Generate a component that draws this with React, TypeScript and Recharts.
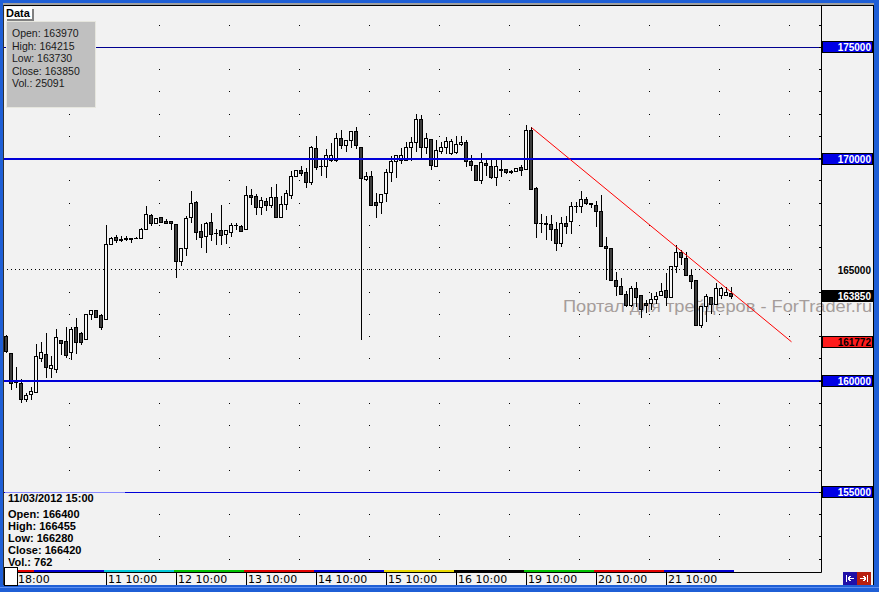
import React from "react";
import {
  ComposedChart, Bar, Line, XAxis, YAxis, ReferenceLine, ReferenceArea,
} from "recharts";

// hourly candles (index 0 = first bar on the left)
const opens = [
  162040, 161250, 160000, 159900, 159180, 159430, 159520, 161050, 161220, 160600,
  160560, 161840, 161790, 161320, 162420, 162190, 161880, 163000, 163190, 162970,
  162780, 166160, 166480, 166400, 166450, 166400, 166450, 166420, 166860, 167480,
  167090, 167370, 167190, 167190, 167060, 165420, 165980, 167370, 168060, 166740,
  166520, 167150, 166670, 166790, 166610, 166730, 167010, 166980, 166860, 168370,
  168320, 167850, 168110, 167930, 168275, 167400, 167960, 168390, 169220, 169490,
  169400, 168950, 170480, 169670, 169670, 169925, 169925, 170930, 170620, 170840,
  171250, 170530, 169110, 169220, 168050, 168050, 168480, 169420, 169890, 169960,
  169960, 170530, 170750, 171790, 170530, 170890, 169670, 170350, 170530, 170260,
  170300, 170660, 170750, 169900, 169720, 169040, 169810, 169670, 169180, 169540,
  169540, 169450, 169450, 169630, 169540, 171290, 168680, 167100, 167100, 167060,
  166830, 166200, 167100, 167190, 167870, 167870, 168190, 168010, 167920, 167640,
  166070, 165980, 164540, 164270, 163900, 163410, 164180, 163860, 163500, 163500,
  163680, 163860, 164090, 163770, 165170, 165800, 165530, 164760, 164540, 162550,
  163370, 163770, 163460, 163860, 163860, 163970,
];
const highs = [
  162100, 161250, 160620, 160080, 159450, 159720, 161690, 161780, 162150, 161130,
  162330, 161850, 162450, 162450, 162850, 162200, 163000, 163190, 163190, 163000,
  167030, 166500, 166580, 166530, 166510, 166455, 166470, 166870, 167880, 167530,
  167330, 167370, 167280, 167190, 167060, 165980, 167430, 168550, 168120, 167060,
  167150, 167570, 166830, 167930, 166800, 167120, 167120, 167010, 168780, 168640,
  168400, 168300, 168250, 168730, 168860, 168330, 168600, 169460, 169490, 169690,
  169580, 170570, 171040, 170030, 170440, 170720, 171140, 171290, 170840, 171250,
  171430, 170530, 169420, 169460, 168460, 168410, 169540, 170140, 170170, 170500,
  170750, 170980, 172010, 171950, 171140, 170890, 170840, 170750, 170980, 170890,
  171020, 171020, 170840, 170170, 169720, 170260, 169940, 169940, 169940, 170030,
  169540, 169490, 169580, 169720, 171520, 171430, 168730, 167510, 167410, 167450,
  167150, 167375, 167420, 168050, 168050, 168530, 168280, 168010, 168100, 168370,
  166470, 165980, 164900, 164630, 164060, 164270, 164450, 163860, 163640, 163950,
  163990, 164400, 164850, 165170, 166110, 165890, 165800, 164990, 164540, 163370,
  163900, 163770, 164400, 164220, 164220, 164215,
];
const lows = [
  161300, 159630, 159740, 159070, 159130, 159190, 159500, 160900, 160170, 160170,
  160420, 161230, 161080, 160990, 161270, 161690, 161880, 162780, 162870, 162370,
  162780, 166160, 166280, 166320, 166370, 166280, 166420, 166420, 166860, 167040,
  167090, 167150, 167130, 166860, 164700, 165220, 165690, 167160, 166410, 166050,
  165830, 166370, 166160, 166160, 166200, 166550, 166860, 166770, 166860, 167970,
  167520, 167520, 167700, 167830, 167375, 167360, 167750, 168240, 169220, 169250,
  168750, 168870, 169550, 169290, 169160, 169880, 169900, 170500, 170330, 170530,
  170500, 161920, 169040, 167910, 167380, 167580, 168120, 168980, 169160, 169800,
  169960, 169960, 170370, 170080, 170260, 169560, 169670, 170260, 170260, 170220,
  170260, 170620, 169670, 169500, 169040, 168910, 169250, 169130, 168820, 169220,
  169360, 169360, 169450, 169270, 169540, 168640, 166470, 166730, 166380, 166370,
  165900, 166070, 166650, 166650, 167600, 167600, 167950, 167830, 166970, 166070,
  164580, 164540, 163890, 163900, 163360, 163360, 163360, 162870, 163100, 163230,
  163500, 163860, 163410, 163770, 164900, 165260, 164760, 164180, 162550, 162420,
  162690, 163050, 163460, 163730, 163860, 163730,
];
const closes = [
  161365, 159900, 159950, 159180, 159400, 159550, 161150, 161330, 160650, 160720,
  161970, 161730, 161190, 162330, 161770, 161770, 163000, 163190, 162870, 162450,
  166160, 166430, 166330, 166330, 166390, 166420, 166420, 166850, 167510, 167090,
  167330, 167150, 167130, 167090, 165390, 165980, 167330, 168000, 166730, 166470,
  167120, 166640, 166670, 166560, 166790, 167010, 167010, 166770, 168370, 168300,
  167850, 168150, 167930, 168275, 167375, 167960, 168460, 169220, 169490, 169370,
  168950, 170530, 169640, 169670, 170170, 170170, 170930, 170620, 170840, 171250,
  170620, 169130, 169220, 167940, 167940, 168410, 169420, 169910, 170170, 170170,
  170530, 170750, 171790, 170530, 170930, 169720, 170390, 170530, 170800, 170800,
  170660, 170750, 169900, 169720, 169040, 169850, 169720, 169180, 169670, 169490,
  169400, 169400, 169580, 169490, 171290, 168640, 167100, 167100, 167060, 166830,
  166200, 167100, 166980, 167870, 167870, 168190, 168010, 167950, 167640, 166070,
  165980, 164540, 164270, 163900, 163410, 164180, 163770, 163230, 163410, 163680,
  163815, 164040, 163770, 165170, 165800, 165570, 164760, 164490, 162550, 163370,
  163815, 163460, 164180, 164180, 164000, 163850,
];

const SLOTS = 163; // bars that fit on the screen, incl. empty space on the right

// red trend line: from the high of the bar 19 11:00 to its end point
const trendIdx = [105, 157];
const trendVals = [171400, 161772];

const dayLabelIdx = [2, 20, 34, 48, 62, 76, 90, 104, 118, 132];
const dayLabels = [
  "18:00", "11 10:00", "12 10:00", "13 10:00", "14 10:00",
  "15 10:00", "16 10:00", "19 10:00", "20 10:00", "21 10:00",
];
const dayStartIdx = [0, 6, 20, 34, 48, 62, 76, 90, 104, 118, 132];
const dayEndIdx = [5, 19, 33, 47, 61, 75, 89, 103, 117, 131, 145];
const dayColors = [
  "#e00000", "#0000d0", "#00c8d8", "#00c000", "#e00000", "#0000d0",
  "#e8d800", "#000000", "#00c000", "#e00000", "#0000d0",
];

const levelPrices = [175000, 170000, 160000, 155000];
const levelWidths = [1, 2, 2, 1];
const levelColors = ["#000090", "#0000d8", "#0000d8", "#0000d8"];
const gridPrices = [
  152000, 153000, 154000, 155000, 156000, 157000, 158000, 159000, 160000,
  161000, 162000, 163000, 164000, 165000, 166000, 167000, 168000, 169000,
  170000, 171000, 172000, 173000, 174000, 175000, 176000,
];
const roundLevel = 165000;
const lastClose = 163850;
const trendLast = 161772;

const topInfo = ["Open: 163970", "High: 164215", "Low: 163730", "Close: 163850", "Vol.: 25091"];
const bottomDate = "11/03/2012 15:00";
const bottomInfo = ["Open: 166400", "High: 166455", "Low: 166280", "Close: 166420", "Vol.: 762"];
const watermark = "Портал для трейдеров - ForTrader.ru";

const rows = Array.from({ length: SLOTS }, (_, i) => ({
  i,
  o: i < opens.length ? opens[i] : null,
  h: i < highs.length ? highs[i] : null,
  l: i < lows.length ? lows[i] : null,
  c: i < closes.length ? closes[i] : null,
  t: trendIdx.includes(i) ? trendVals[trendIdx.indexOf(i)] : null,
}));

const BG = "#f2f2f2";
const FRAME = "#1f5fd6";
// dots of the grid rows: left edge tick, then one dot per day column
const gridDash = "2 30 1 69 1 69 1 69 1 69 1 69 1 69 1 69 1 69 1 69 1 89 1 2000";

const Candle = (props: any) => {
  const { x, y, width, height, payload } = props;
  if (!payload || payload.o == null) return <g />;
  const { o, h, l, c } = payload;
  const top = Math.min(y, y + height);
  const hh = Math.abs(height);
  const k = h > l ? hh / (h - l) : 0;
  const px = Math.floor(x + width / 2);
  const yo = top + (h - o) * k;
  const yc = top + (h - c) * k;
  const bTop = Math.round(Math.min(yo, yc));
  const bBot = Math.round(Math.max(yo, yc));
  const up = c >= o;
  return (
    <g shapeRendering="crispEdges">
      <line x1={px + 0.5} x2={px + 0.5} y1={Math.round(top)} y2={Math.round(top + hh) + 1} stroke="#000" />
      {bBot - bTop < 1 ? (
        <line x1={px - 2} x2={px + 2} y1={bTop + 0.5} y2={bTop + 0.5} stroke="#000" />
      ) : (
        <rect x={px - 1.5} y={bTop + 0.5} width={3} height={bBot - bTop}
          fill={up ? "#f6f6f6" : "#3c3c3c"} stroke="#000" />
      )}
    </g>
  );
};

const XTick = (props: any) => {
  const { x, y, payload } = props;
  const k = dayLabelIdx.indexOf(payload.value);
  if (k < 0) return <g />;
  const px = Math.floor(x) + 0.5;
  return (
    <g>
      <line x1={px} x2={px} y1={y} y2={y + 14} stroke="#000" shapeRendering="crispEdges" />
      <text x={px + 1.5} y={y + 10.5} fontFamily="DejaVu Sans" fontSize={11} fill="#000">
        {dayLabels[k]}
      </text>
    </g>
  );
};

const YTick = (props: any) => {
  const { x, y, payload } = props;
  const v = payload.value;
  const ry = Math.round(y);
  const mark = gridPrices.includes(v) ? (
    <line x1={x - 3} x2={x} y1={Math.floor(y) + 0.5} y2={Math.floor(y) + 0.5} stroke="#000" shapeRendering="crispEdges" />
  ) : null;
  let fill: string | null = null;
  let color = "#000";
  if (levelPrices.includes(v)) { fill = "#0000e6"; color = "#fff"; }
  else if (v === lastClose) { fill = "#000"; color = "#fff"; }
  else if (v === trendLast) { fill = "#ff1c1c"; color = "#000"; }
  const showText = fill !== null || v === roundLevel;
  return (
    <g>
      {mark}
      {fill && (
        <rect x={822.5} y={ry - 5.5} width={50} height={11} fill={fill} stroke="#000" shapeRendering="crispEdges" />
      )}
      {showText && (
        <text x={871} y={ry + 4} textAnchor="end" fontFamily="Liberation Sans" fontWeight="bold" fontSize={10} fill={color}>
          {v}
        </text>
      )}
    </g>
  );
};

export default function App() {
  return (
    <div style={{ position: "absolute", left: 0, top: 0, width: 879, height: 592, background: BG, overflow: "hidden" }}>
      <svg width={879} height={592} style={{ position: "absolute", left: 0, top: 0 }}>
        <text x={563} y={312} fontFamily="Liberation Sans" fontSize={16} fill="#a59d9b" textLength={309} lengthAdjust="spacingAndGlyphs">
          {watermark}
        </text>
      </svg>
      <div style={{ position: "absolute", left: 0, top: 0 }}>
        <ComposedChart width={879} height={592} data={rows} margin={{ top: 6, right: 6, left: 4, bottom: 0 }} barCategoryGap={0}>
          {gridPrices.map((p) => (
            <ReferenceLine key={"g" + p} y={p} stroke="#000" strokeDasharray={gridDash} shapeRendering="crispEdges" />
          ))}
          {dayStartIdx.map((s, k) => (
            <ReferenceArea key={"d" + s} x1={s} x2={dayEndIdx[k]} y1={151426} y2={151516}
              fill={dayColors[k]} fillOpacity={1} stroke="none" />
          ))}
          <XAxis dataKey="i" type="category" interval={0} height={19.5} padding={{ left: 0, right: 2.5 }}
            axisLine={{ stroke: "#000" }} tickLine={false} tickSize={0} tickMargin={0} tick={XTick} />
          <YAxis orientation="right" type="number" domain={[151404, 176865]} allowDataOverflow
            ticks={[...gridPrices, lastClose, trendLast]} interval={0} width={51.5}
            axisLine={{ stroke: "#000" }} tickLine={false} tickSize={0} tickMargin={0} tick={YTick} />
          <Bar dataKey={(d: any) => (d.o == null ? null : [d.l, d.h])} shape={Candle} barSize={5} isAnimationActive={false} />
          <ReferenceLine segment={[{ x: 0, y: roundLevel }, { x: 157, y: roundLevel }]} stroke="#000" strokeDasharray="1 3" shapeRendering="crispEdges" />
          {levelPrices.map((p, k) => (
            <ReferenceLine key={"l" + p} y={p} stroke={levelColors[k]} strokeWidth={levelWidths[k]} shapeRendering="crispEdges" />
          ))}
          <Line dataKey="t" stroke="#ff0000" strokeWidth={1} dot={false} activeDot={false} connectNulls isAnimationActive={false} />
        </ComposedChart>
      </div>
      <svg width={879} height={592} style={{ position: "absolute", left: 0, top: 0, pointerEvents: "none" }} shapeRendering="crispEdges">
        {/* window frame */}
        <rect x={0} y={0} width={879} height={3} fill={FRAME} />
        <rect x={0} y={3} width={879} height={2} fill="#a0a0a0" />
        <rect x={3} y={5} width={871} height={1} fill="#000" />
        <rect x={0} y={0} width={3} height={592} fill={FRAME} />
        <rect x={3} y={5} width={1} height={580} fill="#303030" />
        <rect x={873} y={5} width={1} height={580} fill="#000" />
        <rect x={874} y={0} width={5} height={592} fill={FRAME} />
        <rect x={0} y={585} width={879} height={7} fill={FRAME} />
        <rect x={0} y={587} width={879} height={1} fill="#5d8ff0" />
        {/* light part of the 155000 line under the bar info */}
        <rect x={5} y={492} width={120} height={1} fill="#8a8aff" />
        {/* Data tab and info box */}
        <rect x={7} y={9} width={27} height={12} fill="#808080" />
        <rect x={5} y={7} width={27} height={12} fill="#fff" />
        <text x={6} y={17} fontFamily="Liberation Sans" fontWeight="bold" fontSize={11} fill="#000" shapeRendering="auto">Data</text>
        <rect x={6.5} y={21.5} width={89} height={86} fill="#c0c0c0" stroke="#e6e6de" />
        {topInfo.map((t, k) => (
          <text key={t} x={12} y={37 + k * 12.5} fontFamily="Liberation Sans" fontSize={10.5} fill="#1a1a1a">{t}</text>
        ))}
        <text x={8} y={502} fontFamily="Liberation Sans" fontWeight="bold" fontSize={11} fill="#000">{bottomDate}</text>
        {bottomInfo.map((t, k) => (
          <text key={t} x={8} y={518 + k * 12} fontFamily="Liberation Sans" fontWeight="bold" fontSize={11} fill="#000">{t}</text>
        ))}
        <rect x={4.5} y={567.5} width={13} height={18} fill="#fff" stroke="#000" />
        {/* scroll buttons */}
        <rect x={843} y={572} width={14} height={13} fill="#2010a8" />
        <rect x={857} y={572} width={14} height={13} fill="#b82010" />
        <path d="M846.5 575v7 M848 578.5h6 M848 578.5l2.5-2.5 M848 578.5l2.5 2.5" stroke="#fff" fill="none" />
        <path d="M867.5 575v7 M860 578.5h6 M866 578.5l-2.5-2.5 M866 578.5l-2.5 2.5" stroke="#fff" fill="none" />
      </svg>
    </div>
  );
}
